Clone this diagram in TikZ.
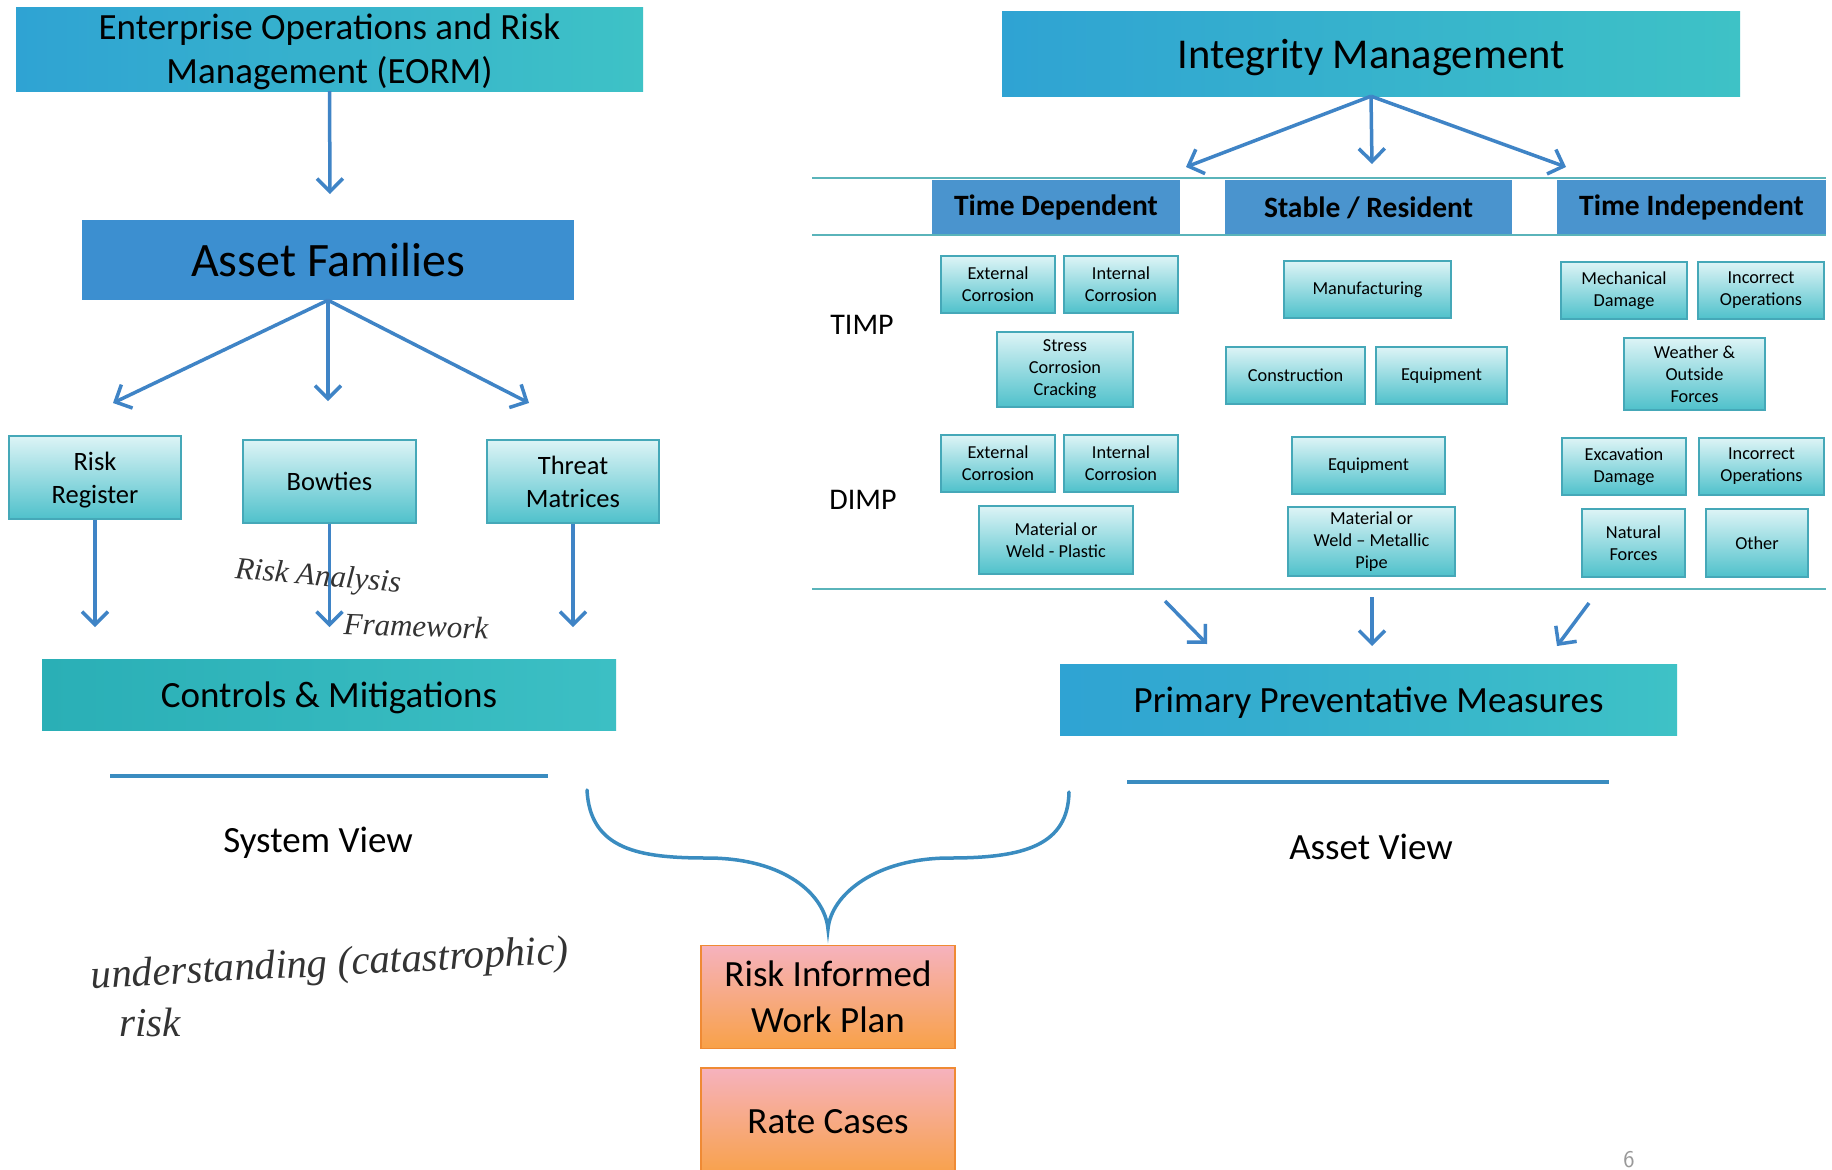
\documentclass[tikz,border=0pt]{standalone}
\usepackage{fontspec}
\setmainfont{Carlito}
\newfontfamily\hand{Liberation Serif}
\usetikzlibrary{arrows.meta}
\definecolor{arr}{HTML}{3F84C6}
\definecolor{tealA}{HTML}{2FA3D3}
\definecolor{tealB}{HTML}{3EC2C6}
\definecolor{afblue}{HTML}{3C8FD0}
\definecolor{hdblue}{HTML}{4A94CE}
\definecolor{cmA}{HTML}{2AAFB6}
\definecolor{cmB}{HTML}{3CBFC4}
\definecolor{lbtop}{HTML}{DDF4F6}
\definecolor{lbbot}{HTML}{4FC1CB}
\definecolor{lbdraw}{HTML}{45A8B8}
\definecolor{bandline}{HTML}{5AB4BA}
\definecolor{ulline}{HTML}{3A8CC0}
\definecolor{ortop}{HTML}{F6B2BE}
\definecolor{orbot}{HTML}{F8A148}
\definecolor{ordraw}{HTML}{EF8A34}
\definecolor{ink}{HTML}{333333}
\tikzset{
  flow/.style={draw=arr, line width=3.5pt, -{Straight Barb[length=13pt,width=26pt]}},
  bigbox/.style={inner sep=0pt, align=center, left color=tealA, right color=tealB},
  afbox/.style={inner sep=0pt, align=center, fill=afblue},
  cmbox/.style={inner sep=0pt, align=center, left color=cmA, right color=cmB},
  hdbox/.style={inner sep=0pt, align=center, fill=hdblue, font=\fontsize{29.5}{32}\selectfont\bfseries},
  midbox/.style={inner sep=0pt, align=center, text depth=0pt, top color=lbtop, bottom color=lbbot, draw=lbdraw, line width=1.5pt, font=\fontsize{26.5}{33}\selectfont},
  smallbox/.style={inner sep=0pt, align=center, top color=lbtop, bottom color=lbbot, draw=lbdraw, line width=1.3pt, font=\fontsize{18.3}{22}\selectfont},
  orbox/.style={inner sep=0pt, align=center, top color=ortop, bottom color=orbot, draw=ordraw, line width=1.5pt, font=\fontsize{37}{45.5}\selectfont},
  lbl/.style={inner sep=0pt, align=center},
  handw/.style={inner sep=0pt, text=ink, font=\hand\itshape},
}
\begin{document}
\begin{tikzpicture}[x=1pt,y=-1pt]
\useasboundingbox (0,0) rectangle (1832,1170);
\fill[white] (0,0) rectangle (1832,1170);

% ---------- left column ----------
\node[bigbox, text depth=0pt, minimum width=627pt, minimum height=84pt, font=\fontsize{37}{44}\selectfont] (eorm) at (329.5,49) {Enterprise Operations and Risk\\Management (EORM)};
\node[afbox, minimum width=492pt, minimum height=80pt, font=\fontsize{48}{50}\selectfont] (af) at (328,260) {Asset Families};
\coordinate (eormend) at (330,194);
\draw[flow] (eorm.south) -- (eormend);

\coordinate (afl) at (113,403);
\coordinate (afm) at (328,401);
\coordinate (afr) at (529,403);
\draw[flow] (af.south) -- (afl);
\draw[flow] (af.south) -- (afm);
\draw[flow] (af.south) -- (afr);

\node[midbox, minimum width=172pt, minimum height=83pt] (rr) at (95,477.5) {Risk\\Register};
\node[midbox, minimum width=173pt, minimum height=83pt] (bt) at (329.5,481.5) {Bowties};
\node[midbox, minimum width=172pt, minimum height=83pt] (tm) at (573,481.5) {Threat\\Matrices};

\coordinate (rrend) at (95,627);
\coordinate (btend) at (329.5,627);
\coordinate (tmend) at (573,627);
\draw[flow] (rr.south) -- (rrend);
\draw[flow] (bt.south) -- (btend);
\draw[flow] (tm.south) -- (tmend);

\node[cmbox, text depth=0pt, minimum width=574pt, minimum height=71pt, font=\fontsize{37}{40}\selectfont] (cm) at (329,694.5) {Controls \& Mitigations};

\node[handw, font=\hand\itshape\fontsize{31}{34}\selectfont, rotate=-5] (ra) at (318,578) {Risk Analysis};
\node[handw, font=\hand\itshape\fontsize{31}{34}\selectfont, rotate=-2] (fw) at (416,626) {Framework};

\coordinate (cml1) at (110,776);
\coordinate (cml2) at (548,776);
\draw[ulline, line width=4pt] (cml1) -- (cml2);
\node[lbl, font=\fontsize{37}{40}\selectfont] (sv) at (318,843) {System View};

\node[handw, font=\hand\itshape\fontsize{41}{44}\selectfont, rotate=3] (und) at (330,966) {understanding (catastrophic)};
\node[handw, font=\hand\itshape\fontsize{41}{44}\selectfont] (rsk) at (150,1022) {risk};

% ---------- brace and bottom boxes ----------
\coordinate (brl) at (587,790);
\coordinate (brr) at (1069,792);
\coordinate (brc) at (828,929);
\draw[ulline, line width=3.5pt, line cap=round]
  (brl) .. controls (590,850) and (640,858) .. (707,858)
        .. controls (785,858) and (825,895) .. (brc)
        .. controls (831,895) and (875,858) .. (950,858)
        .. controls (1025,858) and (1068,845) .. (brr);

\node[orbox, minimum width=254pt, minimum height=103pt] (riwp) at (828,997) {Risk Informed\\Work Plan};
\node[orbox, minimum width=254pt, minimum height=108pt] (rc) at (828,1122) {Rate Cases};

\node[lbl, text=gray!80, font=\sffamily\fontsize{24}{26}\selectfont] (pg) at (1629,1160) {6};

% ---------- right column ----------
\node[bigbox, text depth=0pt, minimum width=738pt, minimum height=85pt, font=\fontsize{42.5}{46}\selectfont] (im) at (1371,53.5) {Integrity Management};
\coordinate (iml) at (1186,167);
\coordinate (imm) at (1372,164);
\coordinate (imr) at (1566,167);
\draw[flow] (im.south) -- (iml);
\draw[flow] (im.south) -- (imm);
\draw[flow] (im.south) -- (imr);

\coordinate (bt1) at (812,178);
\coordinate (bt2) at (1826,178);
\coordinate (bb1) at (812,235);
\coordinate (bb2) at (1826,235);
\node[hdbox, minimum width=248pt, minimum height=56pt] (td) at (1056,207.5) {Time Dependent};
\node[hdbox, minimum width=287pt, minimum height=56pt] (sr) at (1368.5,207.5) {Stable / Resident};
\node[hdbox, minimum width=269pt, minimum height=56pt] (ti) at (1691.5,207.5) {Time Independent};
\draw[bandline, line width=2.2pt] (bt1) -- (bt2);
\draw[bandline, line width=2.2pt] (bb1) -- (bb2);

\node[lbl, font=\fontsize{30}{32}\selectfont] (timp) at (862,325) {TIMP};
\node[lbl, font=\fontsize{30}{32}\selectfont] (dimp) at (863,500) {DIMP};

% TIMP boxes
\node[smallbox, minimum width=114pt, minimum height=57pt] (ec1) at (998,284.5) {External\\Corrosion};
\node[smallbox, minimum width=114pt, minimum height=57pt] (ic1) at (1121,284.5) {Internal\\Corrosion};
\node[smallbox, minimum width=136pt, minimum height=75pt] (scc) at (1065,369.5) {Stress\\Corrosion\\Cracking};
\node[smallbox, minimum width=167pt, minimum height=57pt] (mfg) at (1367.5,289.5) {Manufacturing};
\node[smallbox, minimum width=139pt, minimum height=57pt] (con) at (1295.5,375.5) {Construction};
\node[smallbox, minimum width=131pt, minimum height=57pt] (eq1) at (1441.5,375.5) {Equipment};
\node[smallbox, minimum width=126pt, minimum height=57pt] (md) at (1624,290.5) {Mechanical\\Damage};
\node[smallbox, minimum width=126pt, minimum height=57pt] (io1) at (1761,290.5) {Incorrect\\Operations};
\node[smallbox, minimum width=141pt, minimum height=72pt] (wof) at (1694.5,374) {Weather \&\\Outside\\Forces};

% DIMP boxes
\node[smallbox, minimum width=114pt, minimum height=57pt] (ec2) at (998,463.5) {External\\Corrosion};
\node[smallbox, minimum width=114pt, minimum height=57pt] (ic2) at (1121,463.5) {Internal\\Corrosion};
\node[smallbox, minimum width=154pt, minimum height=68pt] (mwp) at (1056,540) {Material or\\Weld - Plastic};
\node[smallbox, minimum width=153pt, minimum height=57pt] (eq2) at (1368.5,465.5) {Equipment};
\node[smallbox, minimum width=167pt, minimum height=69pt] (mwm) at (1371.5,541.5) {Material or\\Weld -- Metallic\\Pipe};
\node[smallbox, minimum width=124pt, minimum height=57pt] (ed) at (1624,466.5) {Excavation\\Damage};
\node[smallbox, minimum width=125pt, minimum height=57pt] (io2) at (1761.5,466.5) {Incorrect\\Operations};
\node[smallbox, minimum width=103pt, minimum height=68pt] (nf) at (1633.5,543) {Natural\\Forces};
\node[smallbox, minimum width=102pt, minimum height=68pt] (oth) at (1757,543) {Other};

\coordinate (bl1) at (812,589);
\coordinate (bl2) at (1826,589);
\draw[bandline, line width=2.5pt] (bl1) -- (bl2);

\node[bigbox, text depth=0pt, minimum width=617pt, minimum height=71pt, font=\fontsize{37}{40}\selectfont] (ppm) at (1368.5,699.5) {Primary Preventative Measures};

\coordinate (pa1s) at (1165,601);
\coordinate (pa1e) at (1207,644);
\coordinate (pa2s) at (1372,597);
\coordinate (pa2e) at (1372,646);
\coordinate (pa3s) at (1589,603);
\coordinate (pa3e) at (1557,646);
\draw[flow] (pa1s) -- (pa1e);
\draw[flow] (pa2s) -- (pa2e);
\draw[flow] (pa3s) -- (pa3e);

\coordinate (pl1) at (1127,782);
\coordinate (pl2) at (1609,782);
\draw[ulline, line width=4pt] (pl1) -- (pl2);
\node[lbl, font=\fontsize{37}{40}\selectfont] (av) at (1371,847) {Asset View};
\end{tikzpicture}
\end{document}
